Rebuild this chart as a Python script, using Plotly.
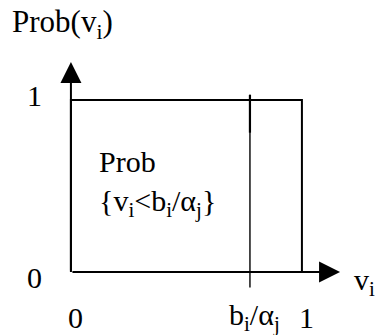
import plotly.graph_objects as go

# Data: uniform distribution of v_i on [0, 1]
v_range = [0, 1]
prob_level = [1, 1]
b_over_alpha = 0.775
x_axis_end = 1.165
y_axis_end = 1.22

x_tick_vals = [0, b_over_alpha, 1]
x_tick_text = ["0", "b<sub>i</sub>/α<sub>j</sub>", "1"]
y_tick_vals = [0, 1]
y_tick_text = ["0", "1"]

FONT = "Liberation Serif, Times New Roman, serif"
FS = 30
BLACK = "#000000"

fig = go.Figure()

# Box (uniform density)
fig.add_trace(go.Scatter(
    x=[v_range[0], v_range[0], v_range[1], v_range[1]],
    y=[0, prob_level[0], prob_level[1], 0],
    mode="lines", line=dict(color=BLACK, width=2), hoverinfo="skip"))

# b_i/alpha_j marker line
fig.add_trace(go.Scatter(
    x=[b_over_alpha, b_over_alpha], y=[-0.09, 1.03],
    mode="lines", line=dict(color=BLACK, width=1.4), hoverinfo="skip"))
fig.add_trace(go.Scatter(
    x=[b_over_alpha, b_over_alpha], y=[0.81, 1.03],
    mode="lines", line=dict(color=BLACK, width=2.2), hoverinfo="skip"))

# Axes with arrowheads
fig.add_annotation(x=x_axis_end, y=0, ax=0, ay=0, xref="x", yref="y",
                   axref="x", ayref="y", text="", showarrow=True,
                   arrowhead=2, arrowsize=2.1, arrowwidth=2, arrowcolor=BLACK, standoff=0)
fig.add_annotation(x=0, y=y_axis_end, ax=0, ay=0, xref="x", yref="y",
                   axref="x", ayref="y", text="", showarrow=True,
                   arrowhead=2, arrowsize=2.1, arrowwidth=2, arrowcolor=BLACK, standoff=0)

font = dict(family=FONT, size=FS, color=BLACK)

# x tick labels
for xv, t in zip(x_tick_vals, x_tick_text):
    fig.add_annotation(x=xv, y=-0.262, text=t, showarrow=False, font=font,
                       xanchor="center", yanchor="middle", xshift=5)
# y tick labels
for yv, t in zip(y_tick_vals, y_tick_text):
    fig.add_annotation(x=-0.156, y=yv, text=t, showarrow=False, font=font,
                       xanchor="center", yanchor="middle", yshift=-5 if yv == 0 else 4)

# axis labels
fig.add_annotation(x=1.27, y=0, text="v<sub>i</sub>", showarrow=False, font=font,
                   xanchor="center", yanchor="middle", yshift=-10)
fig.add_annotation(x=-0.264, y=1.453, text="Prob(v<sub>i</sub>)", showarrow=False,
                   font=dict(family=FONT, size=31, color=BLACK),
                   xanchor="left", yanchor="middle", yshift=-2)

# inner label
fig.add_annotation(x=0.113, y=0.64, text="Prob", showarrow=False, font=font,
                   xanchor="left", yanchor="middle")
fig.add_annotation(x=0.113, y=0.40, text="{v<sub>i</sub>&lt;b<sub>i</sub>/α<sub>j</sub>}",
                   showarrow=False, font=font, xanchor="left", yanchor="middle")

fig.update_layout(
    width=377, height=335, margin=dict(l=0, r=0, t=0, b=0),
    paper_bgcolor="white", plot_bgcolor="white", showlegend=False,
    xaxis=dict(range=[-0.307, 1.325], visible=False, fixedrange=True),
    yaxis=dict(range=[-0.366, 1.581], visible=False, fixedrange=True),
)

fig.write_html("out.html", config={"displayModeBar": False},
               post_script="document.body.style.margin='0';document.body.style.overflow='hidden';")
